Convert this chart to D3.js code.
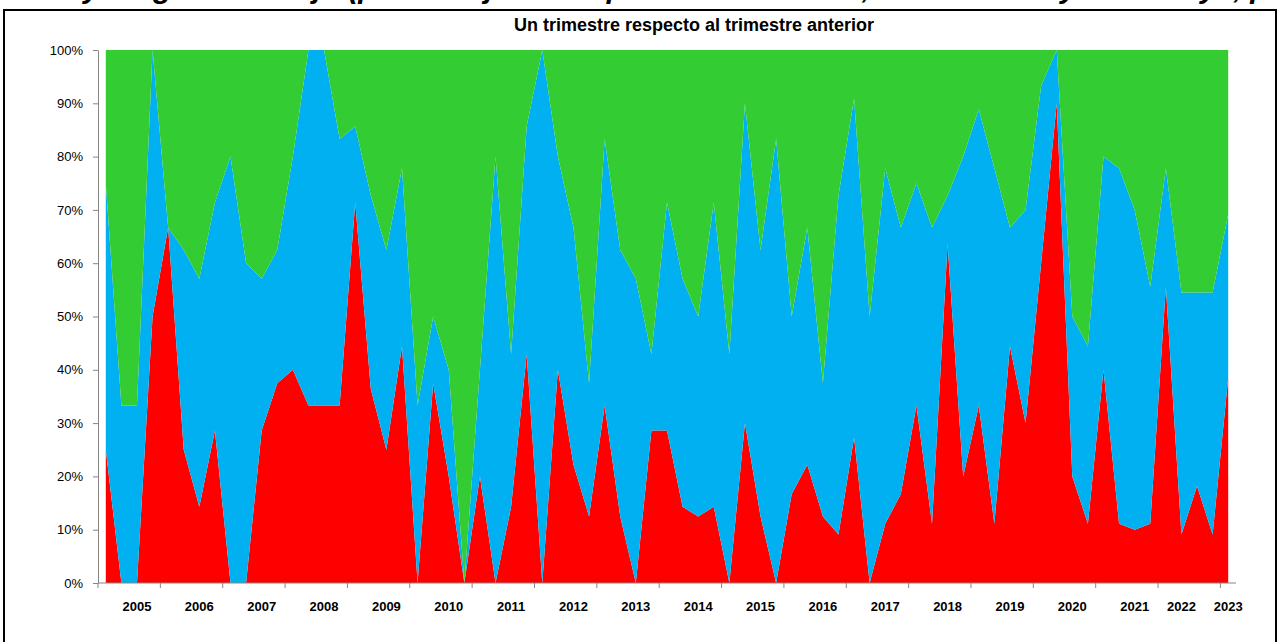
<!DOCTYPE html>
<html>
<head>
<meta charset="utf-8">
<script src="https://cdn.jsdelivr.net/npm/d3@7"></script>
<style>
  body { margin: 0; background: #fff; }
  svg { display: block; font-family: "Liberation Sans", Arial, sans-serif; }
</style>
</head>
<body>
<div id="chart"></div>
<script>
// trimestres (73 puntos) y etiquetas de año en el eje
var yearLabels = ["2005","2006","2007","2008","2009","2010","2011","2012","2013","2014",
                  "2015","2016","2017","2018","2019","2020","2021","2022","2023"];
var yearLabelAt = [2,6,10,14,18,22,26,30,34,38,42,46,50,54,58,62,66,69,72];

// porcentaje de respuestas por trimestre
var red = [25,0,0,50,66.7,25,14.3,28.6,0,0,28.6,37.5,40,33.3,33.3,33.3,71.4,36.4,25,44.4,
           0,37.5,20,0,20,0,14.3,42.9,0,40,22.2,12.5,33.3,12.5,0,28.6,28.6,14.3,12.5,14.3,
           0,30,12.5,0,16.7,22.2,12.5,9.1,27.3,0,11.1,16.7,33.3,11.1,63.6,20,33.3,11.1,44.4,30,
           60,90,20,11.1,40,11.1,10,11.1,55.6,9.1,18.2,9.1,38.5];
var blue = [50,33.3,33.3,50,0,37.5,42.8,42.8,80,60,28.5,25,40,66.7,66.7,50,14.3,36.3,37.5,33.4,
            33.3,12.5,20,0,20,80,28.6,42.8,100,40,44.5,25,50,50,57.1,14.3,42.8,42.8,37.5,57.1,
            42.9,60,50,83.3,33.3,44.5,25,63.6,63.6,50,66.7,50,41.7,55.6,9.1,60,55.6,66.7,22.3,40,
            33.3,10,30,33.3,40,66.7,60,44.5,22.2,45.4,36.3,45.4,30.7];
var green = [25,66.7,66.7,0,33.3,37.5,42.9,28.6,20,40,42.9,37.5,20,0,0,16.7,14.3,27.3,37.5,22.2,
             66.7,50,60,100,60,20,57.1,14.3,0,20,33.3,62.5,16.7,37.5,42.9,57.1,28.6,42.9,50,28.6,
             57.1,10,37.5,16.7,50,33.3,62.5,27.3,9.1,50,22.2,33.3,25,33.3,27.3,20,11.1,22.2,33.3,30,
             6.7,0,50,55.6,20,22.2,30,44.4,22.2,45.5,45.5,45.5,30.8];

var keys = ["red", "blue", "green"],
    colors = {red: "#FF0000", blue: "#00B0F0", green: "#33CC33"};

var W = 1281, H = 642,
    plotL = 98, plotR = 1236, plotT = 50, plotB = 583;

var rows = red.map(function(d, i) {
    return {i: i, red: red[i], blue: blue[i], green: green[i]};
});

var svg = d3.select("#chart").append("svg")
    .attr("width", W)
    .attr("height", H);

// titulo superior (cortado en el original, solo asoman los trazos descendentes)
svg.append("text")
    .attr("x", 700)
    .attr("y", -2)
    .attr("text-anchor", "middle")
    .style("font-size", "30px")
    .style("font-weight", "bold")
    .style("font-style", "italic")
    .text("Empresas y carga de trabajo (porcentaje de respuestas: aumenta, se mantiene y disminuye, por porcentaje)");

// marco del gráfico
svg.append("rect")
    .attr("x", 4).attr("y", 10)
    .attr("width", 1272).attr("height", 700)
    .attr("fill", "#fff")
    .attr("stroke", "#000")
    .attr("stroke-width", 2);

svg.append("text")
    .attr("x", 694)
    .attr("y", 31)
    .attr("text-anchor", "middle")
    .style("font-size", "18px")
    .style("font-weight", "bold")
    .text("Un trimestre respecto al trimestre anterior");

var idx = d3.range(red.length);

var x = d3.scalePoint()
    .domain(idx)
    .range([plotL, plotR])
    .padding(0.5);

var xb = d3.scaleBand()
    .domain(idx)
    .range([plotL, plotR]);

var y = d3.scaleLinear()
    .domain([0, 1])
    .range([plotB, plotT]);

var series = d3.stack()
    .keys(keys)
    .offset(d3.stackOffsetExpand)(rows);

var area = d3.area()
    .x(function(d) { return x(d.data.i); })
    .y0(function(d) { return y(d[0]); })
    .y1(function(d) { return y(d[1]); });

svg.append("g")
    .selectAll("path")
    .data(series)
    .join("path")
    .attr("fill", function(d) { return colors[d.key]; })
    .attr("d", area);

// eje Y
var yAxis = svg.append("g")
    .attr("transform", "translate(" + plotL + ",0)")
    .call(d3.axisLeft(y)
        .tickValues(d3.range(0, 11).map(function(d) { return d / 10; }))
        .tickFormat(d3.format(".0%"))
        .tickSize(5)
        .tickSizeOuter(0)
        .tickPadding(10));
yAxis.selectAll("line, path").attr("stroke", "#868686");
yAxis.selectAll("text")
    .style("font-size", "13px")
    .style("font-family", "Liberation Sans, Arial, sans-serif")
    .attr("fill", "#000");

// eje X
var xg = svg.append("g");
xg.append("line")
    .attr("x1", plotL).attr("x2", plotR)
    .attr("y1", plotB).attr("y2", plotB)
    .attr("stroke", "#868686");
xg.selectAll(".tick")
    .data(idx.filter(function(i) { return i % 4 === 0; }))
    .join("line")
    .attr("x1", function(i) { return xb(i); })
    .attr("x2", function(i) { return xb(i); })
    .attr("y1", plotB).attr("y2", plotB + 5)
    .attr("stroke", "#868686");
xg.selectAll("text")
    .data(yearLabels)
    .join("text")
    .attr("x", function(d, k) { return x(yearLabelAt[k]); })
    .attr("y", 611)
    .attr("text-anchor", "middle")
    .style("font-size", "13px")
    .style("font-weight", "bold")
    .text(function(d) { return d; });
</script>
</body>
</html>
